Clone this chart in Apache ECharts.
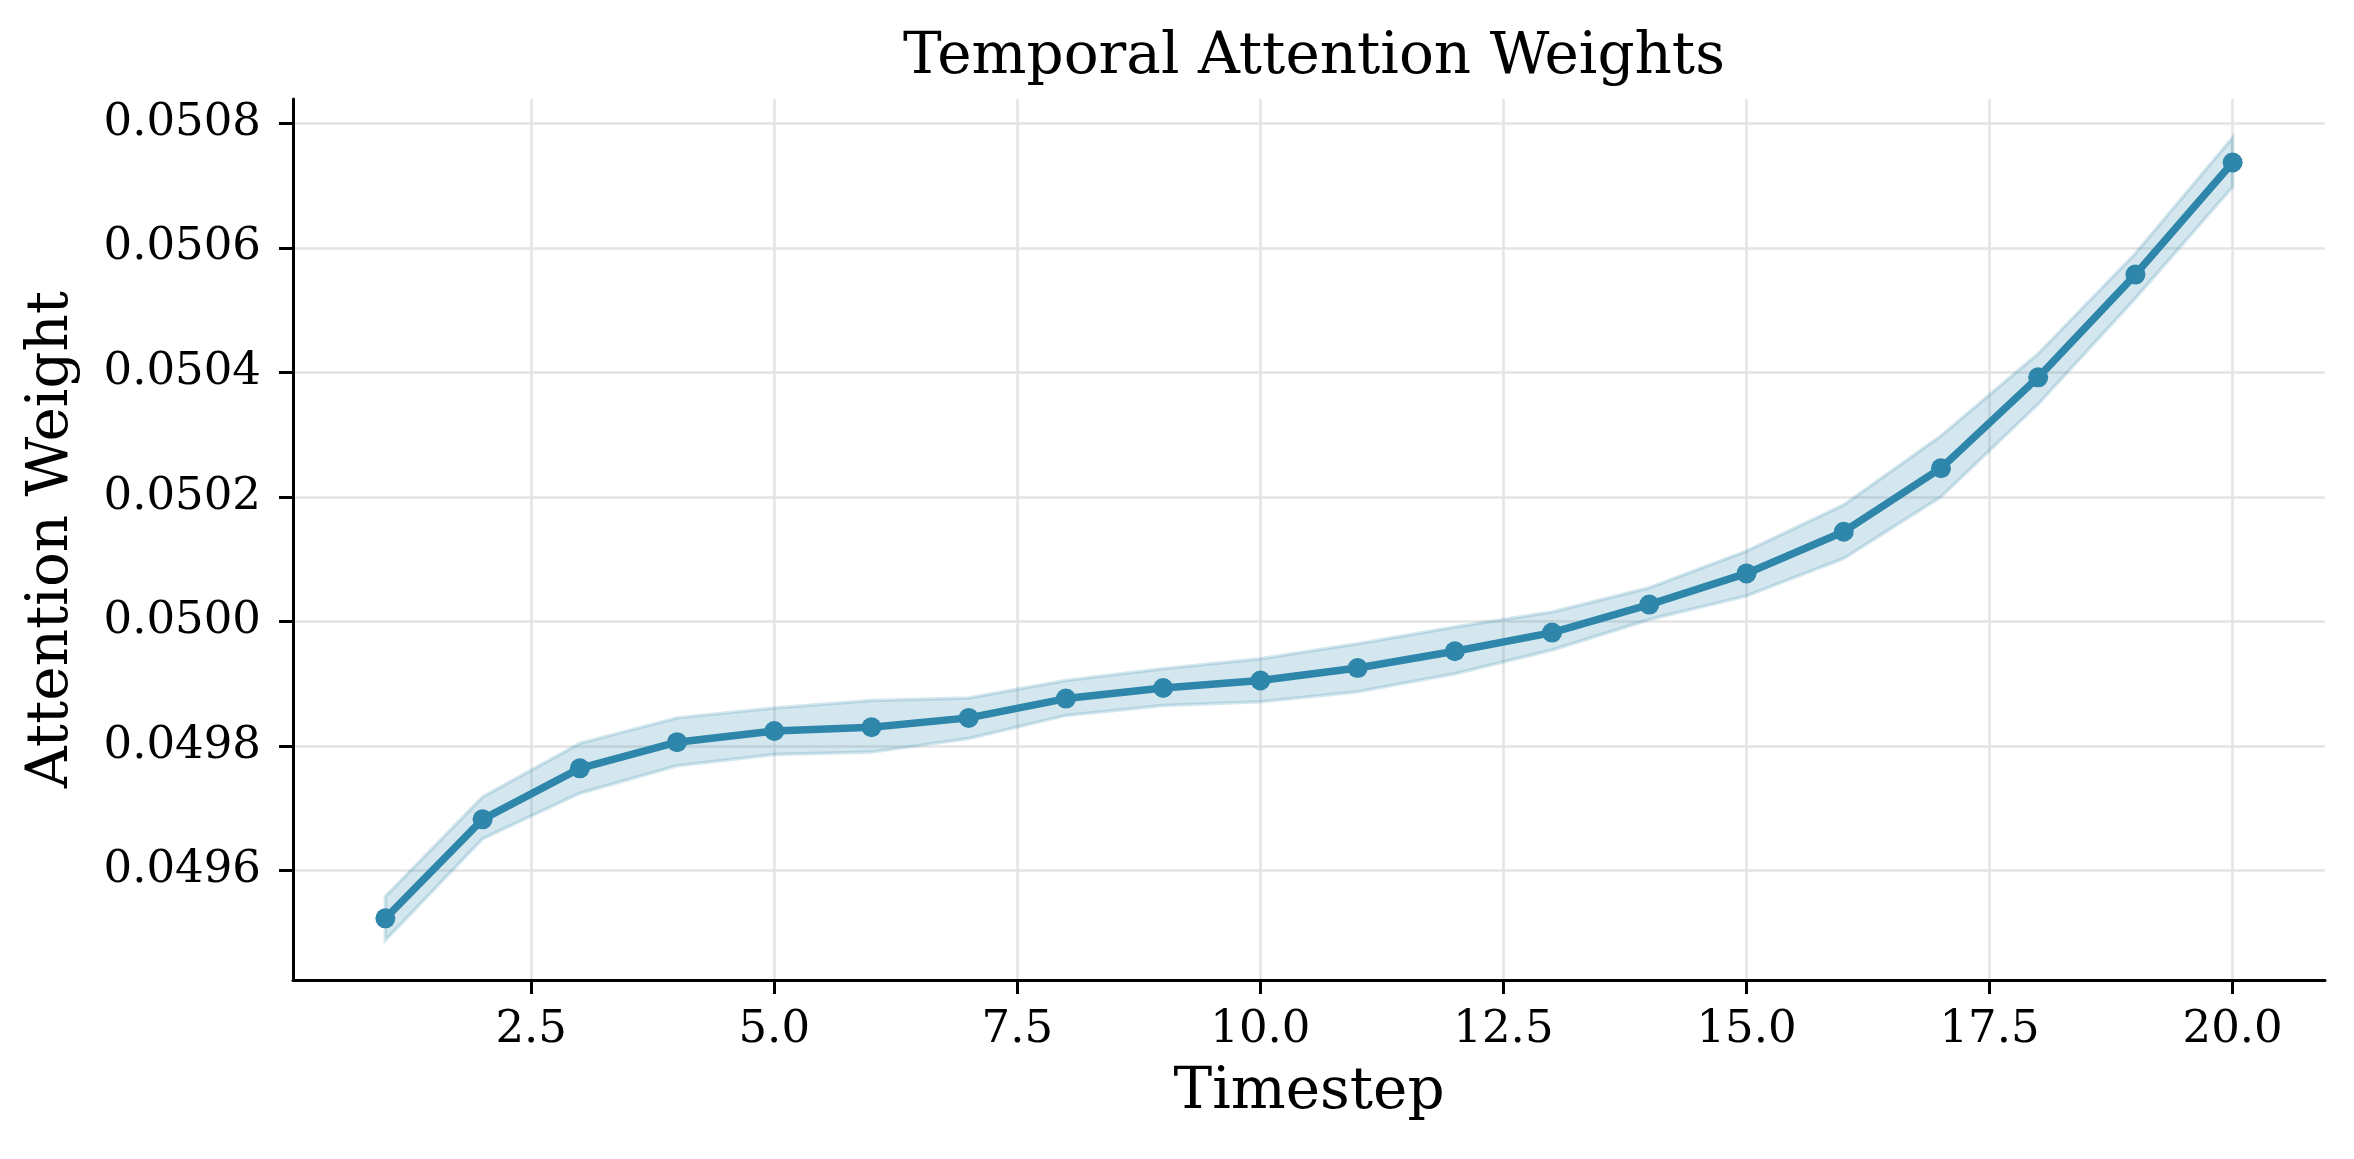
<!DOCTYPE html>
<html>
<head>
<meta charset="utf-8">
<script src="https://cdn.jsdelivr.net/npm/echarts@6/dist/echarts.min.js"></script>
<style>html,body{margin:0;padding:0;background:#fff}#c{width:2354px;height:1159px}</style>
</head>
<body>
<div id="c"></div>
<script>
const timesteps = [1,2,3,4,5,6,7,8,9,10,11,12,13,14,15,16,17,18,19,20];
const meanWeights = [0.049523,0.049682,0.049764,0.049806,0.049824,0.049830,0.049845,0.049876,0.049893,0.049905,0.049925,0.049952,0.049982,0.050027,0.050077,0.050144,0.050246,0.050392,0.050557,0.050737];
const upperBand = [0.049558,0.049718,0.049804,0.049845,0.049861,0.049873,0.049877,0.049905,0.049924,0.049940,0.049964,0.049991,0.050015,0.050054,0.050113,0.050187,0.050298,0.050430,0.050591,0.050777];
const lowerBand = [0.049488,0.049651,0.049724,0.049768,0.049786,0.049790,0.049812,0.049849,0.049865,0.049871,0.049887,0.049916,0.049954,0.050003,0.050041,0.050101,0.050200,0.050349,0.050519,0.050698];
const xTicks = [2.5,5,7.5,10,12.5,15,17.5,20];
const yTicks = [0.0496,0.0498,0.0500,0.0502,0.0504,0.0506,0.0508];

const FONT = "'DejaVu Serif', serif";
const C = '#2E86AB';
const band = 'rgba(46,134,171,0.2)';
const grid = '#e4e4e4';

const bandData = timesteps.map((t,i)=>[t, lowerBand[i], upperBand[i]]);
const meanData = timesteps.map((t,i)=>[t, meanWeights[i]]);

function renderBand(params, api){
  if (params.dataIndex !== 0) return null;
  const top = [], bot = [];
  for (let i = 0; i < bandData.length; i++) {
    top.push(api.coord([bandData[i][0], bandData[i][2]]));
    bot.push(api.coord([bandData[i][0], bandData[i][1]]));
  }
  const pts = top.concat(bot.reverse());
  return {
    type:'polygon',
    shape:{points:pts},
    style:{fill:band, stroke:band, lineWidth:3.5}
  };
}

const chart = echarts.init(document.getElementById('c'), null, {renderer:'canvas'});
chart.setOption({
  animation:false,
  backgroundColor:'#fff',
  title:{text:'Temporal Attention Weights', left:1309, textAlign:'center', top:24,
    textStyle:{fontFamily:FONT, fontSize:58, fontWeight:'normal', color:'#000'}},
  grid:{left:293, right:29, top:99, bottom:179, containLabel:false},
  xAxis:{type:'value', min:0.05, max:20.95,
    name:'Timestep', nameLocation:'middle', nameGap:84,
    nameTextStyle:{fontFamily:FONT, fontSize:58, color:'#000'},
    axisLine:{show:true, onZero:false, lineStyle:{color:'#000', width:3}},
    axisTick:{show:true, length:14, lineStyle:{color:'#000', width:3}, customValues:xTicks},
    axisLabel:{customValues:xTicks, margin:28, fontFamily:FONT, fontSize:45, color:'#000',
      formatter:v=>Number(v).toFixed(1)},
    splitLine:{show:true, lineStyle:{color:grid, width:2.5}}
  },
  yAxis:{type:'value', min:0.049424, max:0.050839,
    name:'Attention Weight', nameLocation:'middle', nameGap:212, nameRotate:90,
    nameTextStyle:{fontFamily:FONT, fontSize:58, color:'#000'},
    axisLine:{show:true, onZero:false, lineStyle:{color:'#000', width:3}},
    axisTick:{show:true, length:14, lineStyle:{color:'#000', width:3}, customValues:yTicks},
    axisLabel:{customValues:yTicks, margin:32, fontFamily:FONT, fontSize:45, color:'#000',
      formatter:v=>Number(v).toFixed(4)},
    splitLine:{show:true, lineStyle:{color:grid, width:2.5}}
  },
  series:[
    {type:'custom', data:bandData, renderItem:renderBand, silent:true, z:1,
      encode:{x:0, y:[1,2]}},
    {type:'line', data:meanData, symbol:'circle', symbolSize:20,
      itemStyle:{color:C}, lineStyle:{color:C, width:7.5}, z:3}
  ]
});
</script>
</body>
</html>
